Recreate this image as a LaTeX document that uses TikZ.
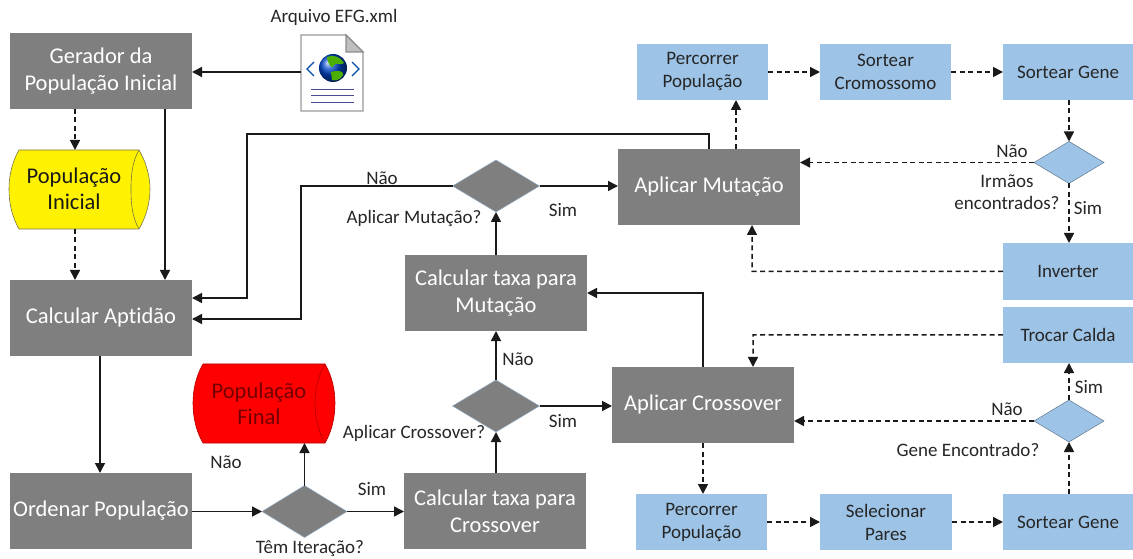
\documentclass[tikz,border=0pt]{standalone}
\usepackage{fontspec}
\setmainfont{Carlito}[Ligatures=NoCommon]
\usetikzlibrary{arrows.meta,shapes.geometric,calc}
\definecolor{boxgray}{HTML}{7F7F7F}
\definecolor{boxblue}{HTML}{9DC3E6}
\definecolor{linek}{HTML}{1A1A1A}
\tikzset{
  x=1bp,y=-1bp,
  every node/.style={inner sep=0pt,outer sep=0pt,align=center},
  graybox/.style={fill=boxgray,text=white,font=\fontsize{22.5bp}{27bp}\selectfont},
  bluebox/.style={fill=boxblue,text=black!85,font=\fontsize{19bp}{23bp}\selectfont},
  lab/.style={text=black!85,font=\fontsize{19bp}{22bp}\selectfont},
  solidarrow/.style={draw=linek,line width=1.5bp,-{Triangle[length=10bp,width=10bp]}},
  dasharrow/.style={solidarrow,dash pattern=on 5bp off 3.5bp},
  cyltext/.style={font=\fontsize{22.5bp}{26bp}\selectfont},
  gdiamond/.style={diamond,aspect=1.65,fill=boxgray,draw=boxblue!70!boxgray,line width=.5bp},
  bdiamond/.style={diamond,aspect=1.65,fill=boxblue,draw=boxblue!60!black,line width=.5bp},
}
\newcommand{\rbox}[6]{\node[#1,minimum width=#4 bp-#2 bp,minimum height=#5 bp-#3 bp,anchor=north west] (#6) at (#2,#3)}
\begin{document}
\begin{tikzpicture}
\useasboundingbox (0,0) rectangle (1133,559);
\rbox{graybox}{10}{33}{192}{109}{ger} {Gerador da\\População Inicial};
\rbox{graybox}{10}{280}{192}{356}{apt} {Calcular Aptidão};
\rbox{graybox}{10}{473}{192}{549}{ord} {Ordenar População};
\rbox{graybox}{404}{473}{586}{549}{txc} {Calcular taxa para\\Crossover};
\rbox{graybox}{405}{255}{587}{331}{txm} {Calcular taxa para\\Mutação};
\rbox{graybox}{618}{149}{800}{225}{apm} {Aplicar Mutação};
\rbox{graybox}{612}{367}{794}{443}{apc} {Aplicar Crossover};
\rbox{bluebox}{637}{44}{768}{100}{pp1} {Percorrer\\População};
\rbox{bluebox}{820}{44}{951}{100}{sc} {Sortear\\Cromossomo};
\rbox{bluebox}{1003}{44}{1133}{100}{sg1} {Sortear Gene};
\rbox{bluebox}{1003}{243}{1133}{300}{inv} {Inverter};
\rbox{bluebox}{1003}{307}{1133}{363}{tc} {Trocar Calda};
\rbox{bluebox}{636}{494}{767}{550}{pp2} {Percorrer\\População};
\rbox{bluebox}{820}{494}{952}{550}{sp} {Selecionar\\Pares};
\rbox{bluebox}{1003}{494}{1133}{550}{sg2} {Sortear Gene};
% diamonds
\node[gdiamond,minimum width=85bp,minimum height=52bp] (d1) at (304.5,511.5) {};
\node[gdiamond,minimum width=87bp,minimum height=52bp] (d2) at (496,406) {};
\node[gdiamond,minimum width=87bp,minimum height=52bp] (d3) at (496,186) {};
\node[bdiamond,minimum width=70bp,minimum height=42bp] (d4) at (1069,162.5) {};
\node[bdiamond,minimum width=70bp,minimum height=42bp] (d5) at (1069,421) {};
% cylinders
\draw[fill=yellow,draw=black!60!yellow,line width=.6bp] (19,150) -- (139,150) .. controls (146,162) and (150,176) .. (150,189) .. controls (150,203) and (146,217) .. (139,229) -- (19,229) .. controls (12,217) and (9,203) .. (9,189) .. controls (9,176) and (12,162) .. (19,150) -- cycle;
\draw[draw=black!60!yellow,line width=.6bp] (139,150) .. controls (132,162) and (131,176) .. (131,189) .. controls (131,203) and (132,217) .. (139,229);
\node[cyltext,text=black!90] (pi) at (74,189) {População\\Inicial};
\draw[fill=red,draw=red!70!black,line width=.6bp] (203,364) -- (325,364) .. controls (332,376) and (335,390) .. (335,403) .. controls (335,417) and (332,431) .. (325,443) -- (203,443) .. controls (196,431) and (193,417) .. (193,403) .. controls (193,390) and (196,376) .. (203,364) -- cycle;
\draw[draw=red!70!black,line width=.6bp] (325,364) .. controls (318,376) and (315,390) .. (315,403) .. controls (315,417) and (318,431) .. (325,443);
\node[cyltext,text=red!45!black] (pf) at (259,404) {População\\Final};
\coordinate (pfb) at (304.5,443);
\coordinate (pit) at (75,150);
\coordinate (pib) at (75,229);
% xml icon
\node[lab] (arq) at (334,17) {Arquivo EFG.xml};
\draw[fill=white,draw=black!40,line width=1.2bp] (301,35) -- (346,35) -- (363,52) -- (363,111) -- (301,111) -- cycle;
\draw[fill=black!25,draw=black!45,line width=1.2bp] (346,35) -- (346,52) -- (363,52) -- cycle;
\shade[ball color=blue!65!cyan!80!black] (333,68) circle (14);
\fill[green!55!black!70!yellow] (327,57) .. controls (333,54) and (341,57) .. (344,63) .. controls (340,66) and (337,62) .. (334,65) .. controls (334,70) and (328,66) .. (327,57) -- cycle;
\fill[green!55!black!70!yellow] (331,72) .. controls (338,70) and (344,71) .. (343,75) .. controls (341,80) and (335,81) .. (332,80) -- cycle;
\draw[draw=blue!50!black!70!cyan,line width=1.3bp] (314,62) -- (307,69) -- (314,76);
\draw[draw=blue!50!black!70!cyan,line width=1.3bp] (352,62) -- (359,69) -- (352,76);
\foreach \yy in {89,95,102}{\draw[draw=blue!40!black!70,line width=.8bp] (311,\yy) -- (354,\yy);}
\coordinate (xml) at (301,72);
% connectors
\draw[solidarrow] (xml) -- (xml-|ger.east);
\draw[dasharrow] (ger.south-|pit) -- (pit);
\draw[dasharrow] (pib) -- (pib|-apt.north);
\draw[solidarrow] (165,109) -- (165,280);
\draw[solidarrow] (apt.south-|100,0) -- (100,473);
\draw[solidarrow] (ord.east|-0,511.5) -- (d1.west);
\draw[solidarrow] (d1.east) -- (txc.west|-d1.east);
\draw[solidarrow] (d1.north) -- (pfb);
\draw[solidarrow] (496,473) -- (d2.south);
\draw[solidarrow] (d2.north) -- (txm.south-|d2.north);
\draw[solidarrow] (txm.north-|d3.south) -- (d3.south);
\draw[solidarrow] (d2.east) -- (apc.west|-d2.east);
\draw[solidarrow] (d3.east) -- (apm.west|-d3.east);
\draw[solidarrow] (d3.west) -- (301,186) -- (301,319) -- (apt.east|-0,319);
\draw[solidarrow] (709,149) -- (709,134) -- (247,134) -- (247,298) -- (apt.east|-0,298);
\draw[solidarrow] (apc.north-|703,0) -- (703,293) -- (txm.east|-0,293);
\draw[dasharrow] (736,149) -- (pp1.south-|736,0);
\draw[dasharrow] (pp1.east) -- (sc.west);
\draw[dasharrow] (sc.east) -- (sg1.west);
\draw[dasharrow] (sg1.south-|d4.north) -- (d4.north);
\draw[dasharrow] (d4.west) -- (apm.east|-d4.west);
\draw[dasharrow] (d4.south) -- (inv.north-|d4.south);
\draw[dasharrow] (inv.west) -- (752,271.5) -- (752,225);
\draw[dasharrow] (703,443) -- (703,494);
\draw[dasharrow] (pp2.east) -- (sp.west);
\draw[dasharrow] (sp.east) -- (sg2.west);
\draw[dasharrow] (sg2.north-|d5.south) -- (d5.south);
\draw[dasharrow] (d5.west) -- (apc.east|-d5.west);
\draw[dasharrow] (d5.north) -- (tc.south-|d5.north);
\draw[dasharrow] (tc.west) -- (753,335) -- (753,367);
% labels
\node[lab] (l1) at (382,178) {Não};
\node[lab] (l2) at (414,219) {Aplicar Mutação?};
\node[lab] (l3) at (563,210) {Sim};
\node[lab] (l4) at (518,359) {Não};
\node[lab] (l5) at (414,433) {Aplicar Crossover?};
\node[lab] (l6) at (563,421) {Sim};
\node[lab] (l7) at (226,462) {Não};
\node[lab] (l8) at (372,489) {Sim};
\node[lab] (l9) at (310,549) {Têm Iteração?};
\node[lab] (l10) at (1012,151) {Não};
\node[lab] (l11) at (1007,181) {Irmãos};
\node[lab] (l12) at (1007,203) {encontrados?};
\node[lab] (l13) at (1088,208) {Sim};
\node[lab] (l14) at (1007,409) {Não};
\node[lab] (l15) at (968,450) {Gene Encontrado?};
\node[lab] (l16) at (1089,387) {Sim};
\end{tikzpicture}
\end{document}
